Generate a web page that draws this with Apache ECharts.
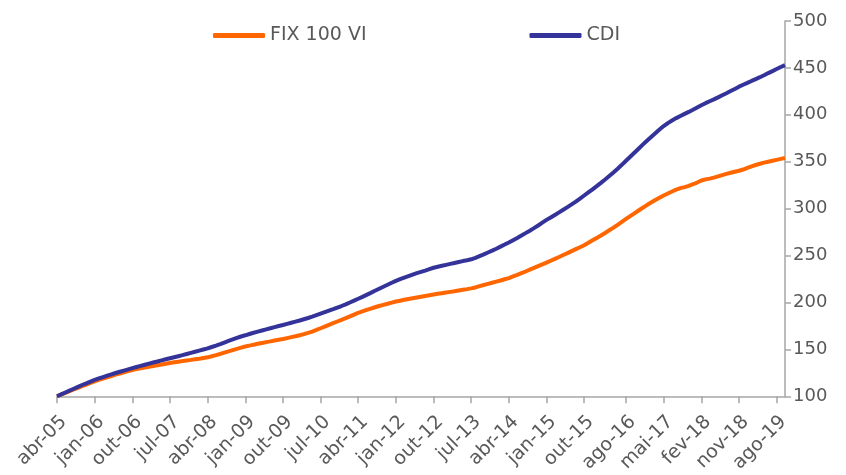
<!DOCTYPE html>
<html>
<head>
<meta charset="utf-8">
<script src="https://cdn.jsdelivr.net/npm/echarts@6/dist/echarts.min.js"></script>
<style>
  html, body { margin: 0; padding: 0; background: #fff; }
  #chart { width: 846px; height: 475px; }
</style>
</head>
<body>
<div id="chart"></div>
<script>
// meses: abr-05 .. out-19 (o eixo pula um mês entre out-15 e ago-16)
const monthNames = ['jan', 'fev', 'mar', 'abr', 'mai', 'jun', 'jul', 'ago', 'set', 'out', 'nov', 'dez'];
const categories = [];
for (let y = 2005, m = 3; y < 2020; m++) {
  if (m > 11) { m = 0; y++; }
  if (y === 2019 && m > 9) break;
  categories.push(monthNames[m] + '-' + String(y).slice(2));
}

const tickLabels = ['abr-05', 'jan-06', 'out-06', 'jul-07', 'abr-08', 'jan-09', 'out-09', 'jul-10',
  'abr-11', 'jan-12', 'out-12', 'jul-13', 'abr-14', 'jan-15', 'out-15', 'ago-16', 'mai-17',
  'fev-18', 'nov-18', 'ago-19'];

const fix100 = [
  100, 101.8, 103.6, 105.4, 107.2, 109, 110.8, 112.5, 114.3, 116,
  117.4, 118.8, 120.2, 121.6, 123, 124.3, 125.6, 126.8, 128,
  128.9, 129.8, 130.6, 131.4, 132.2, 133, 133.8, 134.7, 135.5,
  136.2, 136.9, 137.5, 138.2, 138.8, 139.5, 140.1, 140.8, 141.5,
  142.6, 143.8, 145.1, 146.5, 147.9, 149.2, 150.5, 151.8, 153,
  154, 155, 155.9, 156.8, 157.7, 158.5, 159.4, 160.2, 161,
  162, 163, 164, 165.1, 166.3, 167.6, 169, 170.7, 172.5,
  174.3, 176.1, 177.9, 179.7, 181.5, 183.3, 185.2, 187.1, 189,
  190.5, 192, 193.5, 194.9, 196.2, 197.4, 198.6, 199.8, 201,
  201.9, 202.8, 203.7, 204.5, 205.3, 206.1, 206.9, 207.7, 208.5,
  209.2, 209.9, 210.6, 211.3, 212, 212.8, 213.5, 214.2, 215,
  216, 217.4, 218.6, 219.8, 221, 222.2, 223.4, 224.7, 226,
  227.7, 229.4, 231.2, 233, 234.9, 236.8, 238.7, 240.6, 242.5,
  244.5, 246.5, 248.5, 250.6, 252.6, 254.7, 256.8, 258.9, 261,
  263.6, 266.2, 268.8, 271.4, 274.1, 276.9, 279.7, 282.8, 285.9, 289,
  292, 295, 298, 300.9, 303.8, 306.5, 309.1, 311.6, 314,
  316.2, 318.3, 320.2, 321.8, 323, 324.3, 326, 327.8, 330,
  331.2, 332, 333.1, 334.4, 335.7, 337, 338.2, 339.3, 340.4,
  341.7, 343.4, 345.1, 346.5, 347.8, 349, 350, 351, 352,
  353, 354
];

const cdi = [
  100, 102, 104, 106, 108, 110, 112, 113.8, 115.7, 117.5,
  119, 120.5, 122, 123.4, 124.8, 126.1, 127.4, 128.7, 130,
  131.2, 132.4, 133.6, 134.8, 136, 137.1, 138.3, 139.4, 140.5,
  141.6, 142.7, 143.8, 145, 146.2, 147.4, 148.6, 149.8, 151,
  152.5, 154, 155.6, 157.3, 159, 160.6, 162.2, 163.7, 165,
  166.4, 167.7, 168.9, 170.1, 171.3, 172.5, 173.7, 174.9, 176,
  177.2, 178.4, 179.6, 180.8, 182.1, 183.4, 184.8, 186.4, 188,
  189.6, 191.2, 192.8, 194.5, 196.2, 198, 200, 202, 204,
  206, 208.1, 210.2, 212.4, 214.6, 216.8, 218.9, 221, 223,
  224.8, 226.5, 228.1, 229.7, 231.2, 232.6, 234, 235.5, 237,
  238.1, 239.1, 240.1, 241.1, 242.1, 243.1, 244.1, 245, 246,
  247.6, 249.4, 251.2, 253.2, 255.2, 257.3, 259.5, 261.7, 264,
  266.4, 268.8, 271.3, 273.9, 276.5, 279.2, 282, 285, 288,
  290.6, 293.3, 296, 298.8, 301.6, 304.5, 307.5, 310.7, 314,
  317.3, 320.6, 324, 327.5, 331.1, 334.8, 338.6, 342.6, 346.7, 351,
  355.3, 359.6, 363.9, 368.2, 372.4, 376.4, 380.4, 384.3, 388,
  391.2, 394, 396.5, 398.8, 401, 403.1, 405.4, 407.8, 410.2,
  412.4, 414.5, 416.5, 418.6, 420.8, 423, 425.3, 427.6, 430,
  432, 434, 436.1, 438.1, 440.1, 442.2, 444.5, 446.6, 448.8,
  451, 453
];

const textColor = '#595959';
const axisColor = '#a6a6a6';
const font = 'DejaVu Sans';

const chart = echarts.init(document.getElementById('chart'));
const showTick = (idx, value) => tickLabels.includes(value);

chart.setOption({
  animation: false,
  legend: {
    left: 213,
    top: 26,
    padding: 0,
    itemWidth: 52,
    itemHeight: 5,
    itemGap: 163,
    icon: 'roundRect',
    textStyle: { color: textColor, fontSize: 19, fontFamily: font }
  },
  grid: { left: 57, right: 61, top: 21, bottom: 77 },
  xAxis: {
    type: 'category',
    data: categories,
    boundaryGap: false,
    axisLine: { lineStyle: { color: axisColor, width: 1.5 } },
    axisTick: { show: true, interval: showTick, length: 7, lineStyle: { color: axisColor, width: 1.5 } },
    axisLabel: {
      interval: showTick,
      rotate: 45,
      margin: 16,
      verticalAlign: 'top',
      color: textColor,
      fontSize: 19,
      fontFamily: font
    },
    splitLine: { show: false }
  },
  yAxis: {
    type: 'value',
    position: 'right',
    min: 100,
    max: 500,
    interval: 50,
    axisLine: { show: true, lineStyle: { color: axisColor, width: 1.5 } },
    axisTick: { show: true, length: 6, lineStyle: { color: axisColor, width: 1.5 } },
    axisLabel: { color: textColor, fontSize: 18, fontFamily: font, margin: 8 },
    splitLine: { show: false }
  },
  series: [
    {
      name: 'FIX 100 VI',
      type: 'line',
      data: fix100,
      symbol: 'none',
      color: '#ff6600',
      lineStyle: { width: 4, color: '#ff6600' }
    },
    {
      name: 'CDI',
      type: 'line',
      data: cdi,
      symbol: 'none',
      color: '#333399',
      lineStyle: { width: 4, color: '#333399' }
    }
  ]
});
</script>
</body>
</html>
